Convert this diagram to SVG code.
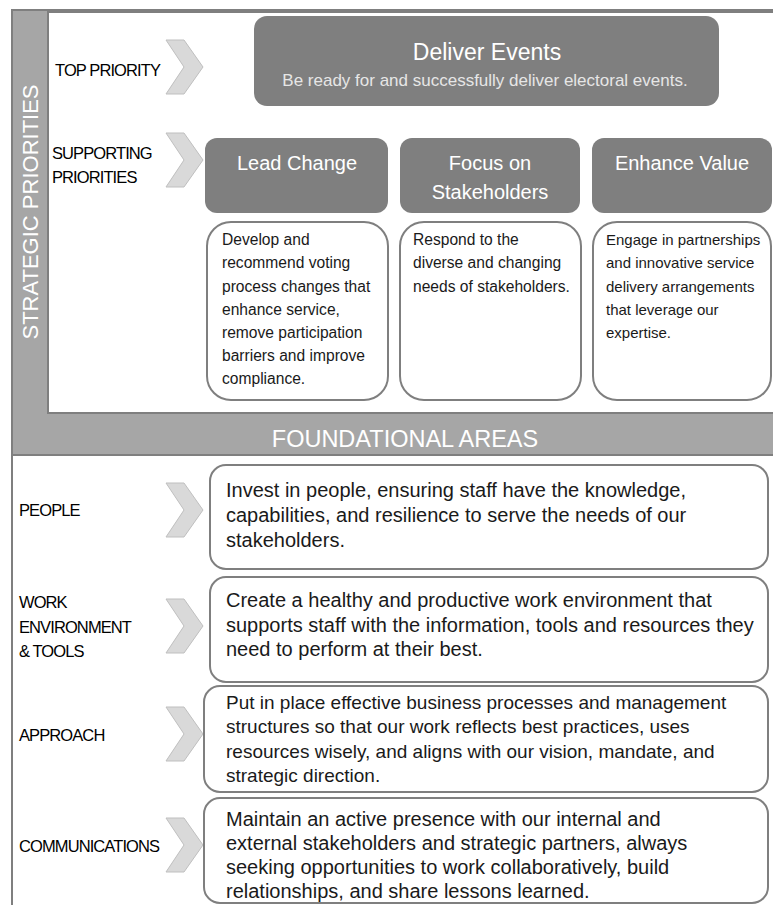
<svg xmlns="http://www.w3.org/2000/svg" width="773" height="905" viewBox="0 0 773 905">
<style>
  .lbl { font-family: "Liberation Sans", Arial, sans-serif; font-size: 16.5px; letter-spacing: -0.9px; fill: #000; }
  .band { font-family: "Liberation Sans", Arial, sans-serif; fill: #fff; }
  .hdr { font-family: "Liberation Sans", Arial, sans-serif; font-size: 20px; fill: #fff; text-anchor: middle; }
  .sm { font-family: "Liberation Sans", Arial, sans-serif; font-size: 15.6px; fill: #1a1a1a; }
  .big { font-family: "Liberation Sans", Arial, sans-serif; font-size: 20px; fill: #1a1a1a; }
  .dark { fill: #7f7f7f; }
  .desc { fill: #fff; stroke: #7f7f7f; stroke-width: 2; }
  .chev { fill: #d9d9d9; stroke: #bfbfbf; stroke-width: 1; }
</style>
<defs>
  <polygon id="chevron" points="0,0 18,0 37,27 18,54 0,54 18,27"/>
</defs>
<rect width="773" height="905" fill="#fff"/>

<g id="frame">
  <rect x="12" y="10" width="770" height="445" fill="#a6a6a6" stroke="#7f7f7f" stroke-width="2"/>
  <rect x="48" y="12" width="730" height="401" fill="#fff" stroke="#7f7f7f" stroke-width="2"/>
  <line x1="12" y1="455" x2="12" y2="905" stroke="#7f7f7f" stroke-width="2"/>
  <text class="band" font-size="22" text-anchor="middle" transform="translate(38,212) rotate(-90)">STRATEGIC PRIORITIES</text>
  <text class="band" font-size="23.5" text-anchor="middle" x="405" y="447">FOUNDATIONAL AREAS</text>
</g>

<g id="labels">
  <text class="lbl" x="55" y="76">TOP PRIORITY</text>
  <text class="lbl" x="52" y="159">SUPPORTING</text>
  <text class="lbl" x="52" y="183">PRIORITIES</text>
  <text class="lbl" x="19" y="516">PEOPLE</text>
  <text class="lbl" x="19" y="608">WORK</text>
  <text class="lbl" x="19" y="633">ENVIRONMENT</text>
  <text class="lbl" x="19" y="657">&amp; TOOLS</text>
  <text class="lbl" x="19" y="741">APPROACH</text>
  <text class="lbl" x="19" y="852">COMMUNICATIONS</text>
</g>

<g id="connectors">
  <use href="#chevron" class="chev" x="166" y="40"/>
  <use href="#chevron" class="chev" x="166" y="133"/>
  <use href="#chevron" class="chev" x="166" y="483"/>
  <use href="#chevron" class="chev" x="166" y="599"/>
  <use href="#chevron" class="chev" x="166" y="707"/>
  <use href="#chevron" class="chev" x="166" y="818"/>
</g>

<g id="deliver-events">
  <rect x="254" y="16" width="465" height="90" rx="13" class="dark"/>
  <text x="487" y="60" font-family="Liberation Sans, Arial, sans-serif" font-size="23" fill="#fff" text-anchor="middle">Deliver Events</text>
  <text x="485" y="86" font-family="Liberation Sans, Arial, sans-serif" font-size="17" fill="#e6e6e6" text-anchor="middle">Be ready for and successfully deliver electoral events.</text>
</g>

<g id="lead-change">
  <rect x="205" y="138" width="183" height="75" rx="12" class="dark"/>
  <text class="hdr" x="297" y="170">Lead Change</text>
  <rect x="207" y="222" width="181" height="178" rx="24" class="desc"/>
  <text class="sm"><tspan x="222" y="245">Develop and</tspan><tspan x="222" y="268">recommend voting</tspan><tspan x="222" y="292">process changes that</tspan><tspan x="222" y="315">enhance service,</tspan><tspan x="222" y="338">remove participation</tspan><tspan x="222" y="361">barriers and improve</tspan><tspan x="222" y="384">compliance.</tspan></text>
</g>

<g id="focus-stakeholders">
  <rect x="400" y="138" width="180" height="75" rx="12" class="dark"/>
  <text class="hdr" x="490" y="170">Focus on</text>
  <text class="hdr" x="490" y="199">Stakeholders</text>
  <rect x="400" y="222" width="181" height="178" rx="24" class="desc"/>
  <text class="sm"><tspan x="413" y="245">Respond to the</tspan><tspan x="413" y="268">diverse and changing</tspan><tspan x="413" y="292">needs of stakeholders.</tspan></text>
</g>

<g id="enhance-value">
  <rect x="592" y="138" width="180" height="75" rx="12" class="dark"/>
  <text class="hdr" x="682" y="170">Enhance Value</text>
  <rect x="593" y="222" width="178" height="178" rx="24" class="desc"/>
  <text class="sm" style="font-size:15px"><tspan x="606" y="245">Engage in partnerships</tspan><tspan x="606" y="268">and innovative service</tspan><tspan x="606" y="292">delivery arrangements</tspan><tspan x="606" y="315">that leverage our</tspan><tspan x="606" y="338">expertise.</tspan></text>
</g>

<g id="people">
  <rect x="210" y="465" width="558" height="104" rx="16" class="desc"/>
  <text class="big"><tspan x="226" y="497">Invest in people, ensuring staff have the knowledge,</tspan><tspan x="226" y="522">capabilities, and resilience to serve the needs of our</tspan><tspan x="226" y="547">stakeholders.</tspan></text>
</g>

<g id="work-environment">
  <rect x="210" y="577" width="558" height="105" rx="16" class="desc"/>
  <text class="big"><tspan x="226" y="607">Create a healthy and productive work environment that</tspan><tspan x="226" y="632">supports staff with the information, tools and resources they</tspan><tspan x="226" y="656">need to perform at their best.</tspan></text>
</g>

<g id="approach">
  <rect x="204" y="686" width="564" height="106" rx="16" class="desc"/>
  <text class="big" style="font-size:19px"><tspan x="226" y="709">Put in place effective business processes and management</tspan><tspan x="226" y="733">structures so that our work reflects best practices, uses</tspan><tspan x="226" y="758">resources wisely, and aligns with our vision, mandate, and</tspan><tspan x="226" y="782">strategic direction.</tspan></text>
</g>

<g id="communications">
  <rect x="204" y="798" width="564" height="105" rx="16" class="desc"/>
  <text class="big"><tspan x="226" y="826">Maintain an active presence with our internal and</tspan><tspan x="226" y="850">external stakeholders and strategic partners, always</tspan><tspan x="226" y="874">seeking opportunities to work collaboratively, build</tspan><tspan x="226" y="898">relationships, and share lessons learned.</tspan></text>
</g>
</svg>
